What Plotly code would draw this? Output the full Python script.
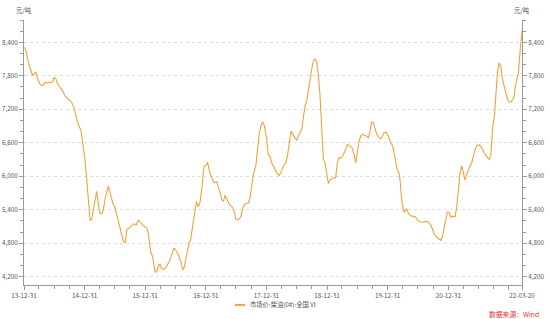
import plotly.graph_objects as go

dates = [
 "2014-01-03","2014-01-12","2014-01-26","2014-02-09","2014-02-21","2014-03-01","2014-03-12","2014-03-21",
 "2014-04-06","2014-04-20","2014-05-07","2014-05-20","2014-06-06","2014-06-20","2014-06-30","2014-07-12",
 "2014-07-26","2014-08-09","2014-08-21","2014-09-04","2014-09-24","2014-10-15","2014-10-28","2014-11-09",
 "2014-11-23","2014-12-10","2014-12-20",
 "2015-01-02","2015-01-13","2015-01-22","2015-02-02","2015-02-12","2015-02-21","2015-03-04","2015-03-14",
 "2015-03-23","2015-04-03","2015-04-15","2015-04-23","2015-05-03","2015-05-13","2015-05-23","2015-06-03",
 "2015-06-19","2015-07-03","2015-07-16","2015-07-29","2015-08-12","2015-08-22","2015-09-03","2015-09-11",
 "2015-09-25","2015-10-11","2015-10-25","2015-11-06","2015-11-20","2015-12-04","2015-12-20",
 "2016-01-09","2016-01-19","2016-02-02","2016-02-14","2016-02-28","2016-03-09","2016-03-19","2016-03-29",
 "2016-04-08","2016-04-22","2016-05-08","2016-05-24","2016-06-08","2016-06-22","2016-07-08","2016-07-23",
 "2016-08-05","2016-08-13","2016-08-23","2016-09-06","2016-09-20","2016-09-30","2016-10-12","2016-10-26",
 "2016-11-05","2016-11-15","2016-11-25","2016-12-06","2016-12-20",
 "2017-01-01","2017-01-11","2017-01-21","2017-02-05","2017-02-18","2017-03-07","2017-03-16","2017-03-27",
 "2017-04-06","2017-04-16","2017-04-26","2017-05-10","2017-05-22","2017-06-05","2017-06-19","2017-07-01",
 "2017-07-15","2017-07-29","2017-08-14","2017-08-28","2017-09-13","2017-09-23","2017-10-03","2017-10-13",
 "2017-10-28","2017-11-06","2017-11-17","2017-11-27","2017-12-09","2017-12-19",
 "2018-01-02","2018-01-11","2018-01-22","2018-02-01","2018-02-15","2018-03-03","2018-03-17","2018-03-27",
 "2018-04-12","2018-04-28","2018-05-08","2018-05-18","2018-05-28","2018-06-08","2018-06-21","2018-07-02",
 "2018-07-11","2018-07-22","2018-08-01","2018-08-10","2018-08-21","2018-08-31","2018-09-10","2018-09-20",
 "2018-09-30","2018-10-10","2018-10-20","2018-10-30","2018-11-09","2018-11-19","2018-11-29","2018-12-09",
 "2018-12-19","2018-12-29",
 "2019-01-08","2019-01-18","2019-01-28","2019-02-07","2019-02-21","2019-03-03","2019-03-13","2019-03-24",
 "2019-04-05","2019-04-19","2019-05-02","2019-05-19","2019-05-31","2019-06-12","2019-06-22","2019-07-02",
 "2019-07-12","2019-07-24","2019-08-07","2019-08-23","2019-09-06","2019-09-16","2019-09-27","2019-10-06",
 "2019-10-16","2019-10-27","2019-11-10","2019-11-20","2019-12-02","2019-12-10","2019-12-22",
 "2020-01-04","2020-01-19","2020-01-31","2020-02-08","2020-02-18","2020-02-27","2020-03-09","2020-03-15",
 "2020-03-21","2020-03-29","2020-04-08","2020-04-16","2020-04-24","2020-05-04","2020-05-18","2020-06-03",
 "2020-06-17","2020-06-27","2020-07-13","2020-08-02","2020-08-19","2020-09-01","2020-09-16","2020-09-28",
 "2020-10-08","2020-10-22","2020-11-05","2020-11-15","2020-11-25","2020-12-05","2020-12-15","2020-12-25",
 "2021-01-05","2021-01-15","2021-01-25","2021-02-10","2021-02-20","2021-03-02","2021-03-12","2021-03-22",
 "2021-04-01","2021-04-11","2021-04-22","2021-05-01","2021-05-11","2021-05-22","2021-05-31","2021-06-10",
 "2021-06-21","2021-07-06","2021-07-21","2021-08-03","2021-08-20","2021-09-03","2021-09-13","2021-09-19",
 "2021-09-25","2021-10-05","2021-10-13","2021-10-23","2021-11-02","2021-11-12","2021-11-22","2021-12-03",
 "2021-12-13","2021-12-22",
 "2022-01-03","2022-01-13","2022-01-24","2022-02-02","2022-02-08","2022-02-17","2022-02-26","2022-03-08",
 "2022-03-14","2022-03-20",
]

prices = [
 8310,8250,8040,7890,7800,7830,7870,7770,
 7650,7620,7680,7670,7680,7690,7770,7740,
 7630,7570,7530,7440,7380,7320,7230,7080,
 6930,6810,6600,
 6300,5940,5520,5210,5230,5400,5610,5730,
 5520,5340,5330,5400,5580,5730,5820,5700,
 5520,5430,5280,5100,4920,4830,4810,5040,
 5070,5110,5150,5120,5210,5170,5110,
 5080,4980,4650,4560,4290,4280,4380,4430,
 4350,4330,4380,4470,4590,4710,4650,4560,
 4440,4320,4370,4620,4800,4860,5130,5370,
 5550,5450,5520,5760,6180,
 6190,6250,6090,5970,5880,5900,5820,5700,
 5580,5550,5660,5550,5490,5460,5370,5220,
 5220,5270,5460,5510,5520,5610,5820,6030,
 6180,6480,6750,6900,6970,6900,
 6650,6390,6350,6240,6150,6060,6010,6060,
 6180,6250,6390,6630,6810,6750,6690,6640,
 6720,6780,6840,7050,7260,7350,7560,7800,
 7920,8070,8100,8040,7800,7440,6960,6300,
 6240,6060,
 5870,5930,5950,5970,5970,6240,6330,6320,
 6370,6450,6570,6540,6510,6390,6240,6420,
 6630,6730,6750,6720,6690,6810,6970,6960,
 6840,6750,6690,6670,6730,6780,6790,
 6720,6600,6540,6420,6240,6120,6060,5940,
 5700,5490,5350,5400,5420,5340,5290,5280,
 5270,5220,5180,5180,5190,5180,5130,5040,
 4950,4910,4880,4850,4910,5070,5250,5360,
 5350,5270,5280,5270,5460,5820,6060,6190,
 6030,5930,6050,6110,6150,6250,6360,6480,
 6550,6560,6510,6420,6350,6300,6370,6660,
 6900,7080,7440,7860,8030,7980,7740,7620,
 7470,7380,
 7330,7330,7380,7450,7620,7750,7850,8220,
 8460,8610,
]

series_name = "市场价:柴油(0#):全国 VI"
unit = "元/吨"
source = "数据来源：Wind"

x_tick_vals = ["2013-12-31","2014-12-31","2015-12-31","2016-12-31","2017-12-31",
               "2018-12-31","2019-12-31","2020-12-31","2021-12-31","2022-03-20"]
x_tick_text = ["13-12-31","14-12-31","15-12-31","16-12-31","17-12-31",
               "18-12-31","19-12-31","20-12-31","","22-03-20"]
y_tick_vals = [4200, 4800, 5400, 6000, 6600, 7200, 7800, 8400]
y_tick_text = ["4,200","4,800","5,400","6,000","6,600","7,200","7,800","8,400"]

FONT = "Microsoft YaHei, Noto Sans CJK SC, sans-serif"
LINE = "#F2A23C"
GREY = "#9a9a9a"
TXT = "#555555"

fig = go.Figure()
fig.add_trace(go.Scatter(x=dates, y=prices, mode="lines", name=series_name, showlegend=False,
                         line=dict(color=LINE, width=1.1)))
fig.add_trace(go.Scatter(x=dates, y=prices, mode="lines", yaxis="y2", showlegend=False,
                         hoverinfo="skip", line=dict(color="rgba(0,0,0,0)", width=0)))

yrange = [4050, 8800]
common_y = dict(range=yrange, tickvals=y_tick_vals, ticktext=y_tick_text, automargin=False,
                ticks="outside", ticklen=4, tickcolor=GREY, showline=True, linecolor=GREY,
                linewidth=1, tickfont=dict(size=6.3, color=TXT, family=FONT),
                ticklabelstandoff=0,
                minor=dict(dtick=200, ticks="outside", ticklen=3, tickcolor=GREY, showgrid=False),
                zeroline=False)

# manual legend (short line sample + label) below the plot
leg_y = -0.075
shapes = [dict(type="line", xref="paper", yref="paper", x0=0.4237, x1=0.4438, y0=leg_y, y1=leg_y,
               line=dict(color=LINE, width=2))]

fig.update_layout(
    width=550, height=319,
    margin=dict(l=24, r=28, t=20, b=34, autoexpand=False),
    paper_bgcolor="white", plot_bgcolor="white",
    font=dict(family=FONT, size=6.3, color=TXT),
    xaxis=dict(type="date", range=["2013-12-31", "2022-03-20"], automargin=False,
               tickvals=x_tick_vals, ticktext=x_tick_text,
               ticks="outside", ticklen=4, tickcolor=GREY, showline=True, linecolor=GREY,
               showgrid=False, zeroline=False,
               tickfont=dict(size=6.3, color=TXT, family=FONT),
               minor=dict(ticks="outside", ticklen=3, tickcolor=GREY, dtick="M3",
                          tick0="2013-12-31", showgrid=False)),
    yaxis=dict(**common_y, side="left", showgrid=True, gridcolor="#dddddd", griddash="dot",
               gridwidth=1),
    yaxis2=dict(**common_y, side="right", overlaying="y", showgrid=False, anchor="x"),
    showlegend=False,
    shapes=shapes,
    annotations=[
        dict(text=series_name, xref="paper", yref="paper", x=0.4498, y=leg_y, xanchor="left",
             yanchor="middle", showarrow=False, font=dict(size=6.3, color=TXT, family=FONT)),
        dict(text=unit, xref="paper", yref="paper", x=0, y=1, xanchor="center", yanchor="bottom",
             yshift=3, showarrow=False, font=dict(size=6.3, color=TXT, family=FONT)),
        dict(text=unit, xref="paper", yref="paper", x=1, y=1, xanchor="center", yanchor="bottom",
             yshift=3, showarrow=False, font=dict(size=6.3, color=TXT, family=FONT)),
        dict(text=source, xref="paper", yref="paper", x=1, y=0, xanchor="right", yanchor="middle",
             xshift=19, yshift=-29, showarrow=False, font=dict(size=6.8, color="#e0312f", family=FONT)),
    ],
)

fig.write_html("out.html")
